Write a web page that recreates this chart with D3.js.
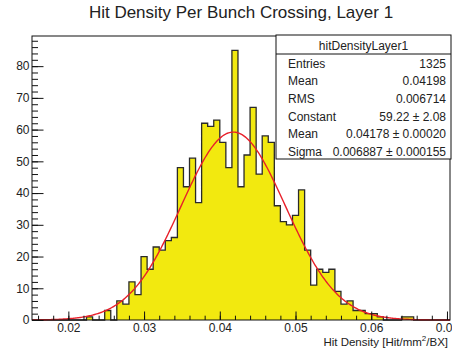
<!DOCTYPE html>
<html>
<head>
<meta charset="utf-8">
<script src="https://cdn.jsdelivr.net/npm/d3@7"></script>
<style>
  html, body { margin: 0; padding: 0; background: #fff; }
  svg { display: block; font-family: "Liberation Sans", Arial, Helvetica, sans-serif; }
</style>
</head>
<body>
<svg id="chart" width="452" height="353"></svg>
<script>
// ---- Data ----
const chartTitle = "Hit Density Per Bunch Crossing, Layer 1";
const histName = "hitDensityLayer1";
const histRange = [0.0152, 0.0704];          // xmin, xmax of histogram (69 bins)
const counts = [
  0, 0, 0, 0, 0, 0, 0, 0, 0, 1,
  0, 0, 3, 0, 6, 5, 12, 8, 20, 16,
  23, 22, 25, 26, 48, 42, 51, 37, 62, 61,
  63, 56, 48, 85, 42, 52, 67, 46, 58, 56,
  36, 31, 30, 33, 41, 22, 11, 16, 15, 16,
  9, 5, 6, 3, 3, 2, 2, 1, 0, 0,
  0, 1, 1, 0, 0, 0, 0, 0, 0
];
const fitParams = { constant: 59.22, mean: 0.04178, sigma: 0.006887 };
const xTickValues = [0.02, 0.03, 0.04, 0.05, 0.06, 0.07];
const xTickLabels = ["0.02", "0.03", "0.04", "0.05", "0.06", "0.07"];
const xMinorStep = 0.002;
const yTickValues = [0, 10, 20, 30, 40, 50, 60, 70, 80];
const yMinorStep = 2;
const yMax = 89.5;
const statsLabels = ["Entries", "Mean", "RMS", "Constant", "Mean", "Sigma"];
const statsValues = ["1325", "0.04198", "0.006714", "59.22 \u00b1 2.08", "0.04178 \u00b1 0.00020", "0.006887 \u00b1 0.000155"];
const xAxisTitle = "Hit Density [Hit/mm";
const xAxisTitleEnd = "/BX]";

// ---- Layout ----
const svg = d3.select("#chart");
const frame = { left: 32, right: 450, top: 36, bottom: 320 };
const x = d3.scaleLinear().domain(histRange).range([frame.left, frame.right]);
const y = d3.scaleLinear().domain([0, yMax]).range([frame.bottom, frame.top]);

const nBins = counts.length;
const binW = (histRange[1] - histRange[0]) / nBins;

// Title
svg.append("text")
  .attr("x", 241).attr("y", 17.5)
  .attr("text-anchor", "middle")
  .attr("font-size", 17)
  .attr("fill", "#222")
  .text(chartTitle);

// Histogram step path
const pts = [[x(histRange[0]), y(0)]];
counts.forEach((c, i) => {
  const x0 = x(histRange[0] + i * binW), x1 = x(histRange[0] + (i + 1) * binW);
  pts.push([x0, y(c)]);
  pts.push([x1, y(c)]);
});
pts.push([x(histRange[1]), y(0)]);
const line = d3.line();
svg.append("path")
  .attr("d", line(pts) + "Z")
  .attr("fill", "#f2e90f")
  .attr("stroke", "none");
svg.append("path")
  .attr("d", line(pts))
  .attr("fill", "none")
  .attr("stroke", "#2a2a2a")
  .attr("stroke-width", 1.3);

// Fit curve
const fx = d3.range(0, 401).map(k => histRange[0] + (histRange[1] - histRange[0]) * k / 400);
const gauss = v => fitParams.constant * Math.exp(-0.5 * Math.pow((v - fitParams.mean) / fitParams.sigma, 2));
svg.append("path")
  .attr("d", d3.line().x(v => x(v)).y(v => y(gauss(v)))(fx))
  .attr("fill", "none")
  .attr("stroke", "#e8202a")
  .attr("stroke-width", 1.4);

// Frame
svg.append("rect")
  .attr("x", frame.left).attr("y", frame.top)
  .attr("width", frame.right - frame.left).attr("height", frame.bottom - frame.top)
  .attr("fill", "none").attr("stroke", "#111").attr("stroke-width", 1);

// X axis ticks
const xMinor = d3.range(Math.ceil(histRange[0] / xMinorStep), Math.floor(histRange[1] / xMinorStep) + 1)
  .map(k => +(k * xMinorStep).toFixed(4));
const gx = svg.append("g").attr("transform", `translate(0,${frame.bottom})`);
gx.call(d3.axisBottom(x).tickValues(xMinor).tickSize(-4.3).tickFormat(""));
gx.call(g => g.select(".domain").remove());
const gx2 = svg.append("g").attr("transform", `translate(0,${frame.bottom})`);
gx2.call(d3.axisBottom(x).tickValues(xTickValues).tickSize(-8.5).tickPadding(3.5)
  .tickFormat((d, i) => xTickLabels[i]));
gx2.call(g => g.select(".domain").remove());
gx2.selectAll("text").attr("font-size", 12).attr("fill", "#222")
  .attr("font-family", "Liberation Sans, Arial, sans-serif");
svg.selectAll(".tick line").attr("stroke", "#111");

// Y axis ticks
const yMinor = d3.range(0, yMax, yMinorStep);
const gy = svg.append("g").attr("transform", `translate(${frame.left},0)`);
gy.call(d3.axisLeft(y).tickValues(yMinor).tickSize(-6).tickFormat(""));
gy.call(g => g.select(".domain").remove());
const gy2 = svg.append("g").attr("transform", `translate(${frame.left},0)`);
gy2.call(d3.axisLeft(y).tickValues(yTickValues).tickSize(-11.5).tickPadding(3).tickFormat(d3.format("d")));
gy2.call(g => g.select(".domain").remove());
gy2.selectAll("text").attr("font-size", 12).attr("fill", "#222")
  .attr("font-family", "Liberation Sans, Arial, sans-serif")
  .attr("x", -2.5);
svg.selectAll(".tick line").attr("stroke", "#111");

// X axis title
const xt = svg.append("text")
  .attr("x", 448).attr("y", 346)
  .attr("text-anchor", "end")
  .attr("font-size", 11.5)
  .attr("fill", "#222");
xt.append("tspan").text(xAxisTitle);
xt.append("tspan").attr("dy", -5).attr("font-size", 8).text("2");
xt.append("tspan").attr("dy", 5).text(xAxisTitleEnd);

// Stats box
const box = { left: 276, right: 451, top: 35, bottom: 159, sep: 54 };
svg.append("rect")
  .attr("x", box.left).attr("y", box.top)
  .attr("width", box.right - box.left).attr("height", box.bottom - box.top)
  .attr("fill", "#fff").attr("stroke", "#111").attr("stroke-width", 1);
svg.append("line")
  .attr("x1", box.left).attr("x2", box.right)
  .attr("y1", box.sep).attr("y2", box.sep)
  .attr("stroke", "#111");
svg.append("text")
  .attr("x", (box.left + box.right) / 2).attr("y", 49.5)
  .attr("text-anchor", "middle").attr("font-size", 12).attr("fill", "#222")
  .text(histName);
statsLabels.forEach((lab, i) => {
  const yy = 67.5 + i * 17.7;
  svg.append("text").attr("x", 288).attr("y", yy)
    .attr("font-size", 12).attr("fill", "#222").text(lab);
  svg.append("text").attr("x", 446).attr("y", yy)
    .attr("text-anchor", "end").attr("font-size", 12).attr("fill", "#222").text(statsValues[i]);
});
</script>
</body>
</html>
